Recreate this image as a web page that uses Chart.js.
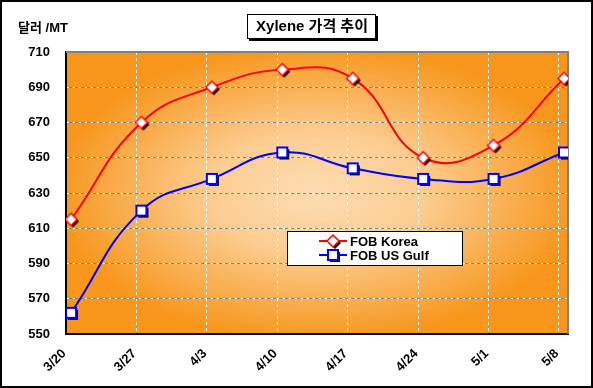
<!DOCTYPE html>
<html>
<head>
<meta charset="utf-8">
<script src="https://cdn.jsdelivr.net/npm/chart.js@4"></script>
<style>
html, body { margin: 0; padding: 0; background: #fff; }
</style>
</head>
<body>
<canvas id="xyleneChart" width="593" height="388"></canvas>
<script>
// 주간 Xylene 가격 (달러/MT)
var weeks = ["3/20", "3/27", "4/3", "4/10", "4/17", "4/24", "5/1", "5/8"];
var fobKorea = [615, 670, 690, 700, 695, 650, 657, 695];
var fobUsGulf = [562, 620, 638, 653, 644, 638, 638, 653];
var seriesNames = ["FOB Korea", "FOB US Gulf"];
var chartTitle = "Xylene 가격 추이";
var yUnit = "달러 /MT";
var yMin = 550, yMax = 710, yStep = 20;

var FONT = "'Liberation Sans', 'Noto Sans CJK KR', Arial, sans-serif";

// 그림자 있는 마커 이미지
function makeMarker(shape, color) {
	var c = document.createElement("canvas");
	c.width = 22; c.height = 22;
	var g = c.getContext("2d");
	var cx = 11, cy = 11;
	function path(dx, dy) {
		g.beginPath();
		if (shape == "diamond") {
			g.moveTo(cx + dx, cy - 6 + dy);
			g.lineTo(cx + 6 + dx, cy + dy);
			g.lineTo(cx + dx, cy + 6 + dy);
			g.lineTo(cx - 6 + dx, cy + dy);
		} else {
			g.rect(cx - 5 + dx, cy - 5 + dy, 10, 10);
		}
		g.closePath();
	}
	g.fillStyle = "#000";
	path(2, 2); g.fill();
	g.fillStyle = "#fff";
	path(0, 0); g.fill();
	g.strokeStyle = color;
	g.lineWidth = shape == "diamond" ? 1.5 : 2;
	path(0, 0); g.stroke();
	return c;
}

var koreaMarker = makeMarker("diamond", "#ff0000");
var gulfMarker = makeMarker("square", "#0000ff");

var bgPlugin = {
	id: "bg",
	beforeDraw: function (chart) {
		var ctx = chart.ctx, a = chart.chartArea;
		ctx.save();
		ctx.fillStyle = "#fff";
		ctx.fillRect(0, 0, chart.width, chart.height);
		var cx = (a.left + a.right) / 2, cy = (a.top + a.bottom) / 2;
		var rx = (a.right - a.left) / 2, ry = (a.bottom - a.top) / 2;
		ctx.beginPath();
		ctx.rect(a.left, a.top, a.right - a.left, a.bottom - a.top);
		ctx.clip();
		ctx.translate(cx, cy);
		ctx.scale(rx, ry);
		var grad = ctx.createRadialGradient(0, 0, 0, 0, 0, 1.05);
		grad.addColorStop(0, "#fddcb3");
		grad.addColorStop(0.4, "#fccd92");
		grad.addColorStop(1, "#f7961b");
		ctx.fillStyle = grad;
		ctx.fillRect(-1.5, -1.5, 3, 3);
		ctx.restore();
	},
	beforeDatasetsDraw: function (chart) {
		var ctx = chart.ctx, a = chart.chartArea;
		ctx.save();
		// 위/오른쪽 테두리
		ctx.strokeStyle = "#808080";
		ctx.lineWidth = 2;
		ctx.beginPath();
		ctx.moveTo(a.left, a.top);
		ctx.lineTo(a.right, a.top);
		ctx.lineTo(a.right, a.bottom);
		ctx.stroke();
		// 바깥 테두리
		ctx.strokeStyle = "#000";
		ctx.strokeRect(1, 1, chart.width - 2, chart.height - 2);
		// 제목 상자
		ctx.fillStyle = "#000";
		ctx.fillRect(249, 16, 129, 25);
		ctx.fillStyle = "#fff";
		ctx.fillRect(247, 14, 129, 25);
		ctx.lineWidth = 1;
		ctx.strokeRect(247.5, 14.5, 128, 24);
		ctx.fillStyle = "#000";
		ctx.font = "bold 15px " + FONT;
		ctx.textAlign = "center";
		ctx.textBaseline = "middle";
		ctx.fillText(chartTitle, 312, 27);
		// 단위
		ctx.font = "bold 13px " + FONT;
		ctx.textAlign = "left";
		ctx.fillText(yUnit, 18, 28);
		ctx.restore();
	},
	afterDatasetsDraw: function (chart) {
		// 범례
		var ctx = chart.ctx;
		var x = 287, y = 231, w = 175, h = 34;
		ctx.save();
		ctx.fillStyle = "#fff";
		ctx.fillRect(x, y, w, h);
		ctx.strokeStyle = "#000";
		ctx.lineWidth = 1;
		ctx.strokeRect(x + 0.5, y + 0.5, w, h);
		var rows = [
			{ name: seriesNames[0], color: "#ff0000", marker: koreaMarker, y: y + 10 },
			{ name: seriesNames[1], color: "#0000ff", marker: gulfMarker, y: y + 24 }
		];
		ctx.font = "bold 13px " + FONT;
		ctx.textBaseline = "middle";
		ctx.textAlign = "left";
		rows.forEach(function (r) {
			ctx.strokeStyle = r.color;
			ctx.lineWidth = 2;
			ctx.beginPath();
			ctx.moveTo(319, r.y);
			ctx.lineTo(347, r.y);
			ctx.stroke();
			ctx.drawImage(r.marker, 333 - 11, r.y - 11);
			ctx.fillStyle = "#000";
			ctx.fillText(r.name, 350, r.y + 1);
		});
		ctx.restore();
	}
};

var xMin = -0.071, xMax = 7.057;

var ctx = document.getElementById("xyleneChart");

var data = {
	datasets: [
		{
			label: seriesNames[0],
			data: fobKorea.map(function (v, i) { return { x: i, y: v }; }),
			borderColor: "#ff0000",
			borderWidth: 2,
			tension: 0.45,
			pointStyle: koreaMarker,
			pointRadius: 6,
			fill: false
		}, {
			label: seriesNames[1],
			data: fobUsGulf.map(function (v, i) { return { x: i, y: v }; }),
			borderColor: "#0000ff",
			borderWidth: 2,
			tension: 0.45,
			pointStyle: gulfMarker,
			pointRadius: 6,
			fill: false
		}
	]
};

var options = {
	responsive: false,
	animation: false,
	layout: { padding: { left: 0, right: 25, top: 52, bottom: 0 } },
	plugins: {
		legend: { display: false },
		title: { display: false },
		tooltip: { enabled: false }
	},
	scales: {
		x: {
			type: "linear",
			position: "bottom",
			min: xMin,
			max: xMax,
			afterBuildTicks: function (s) {
				s.ticks = weeks.map(function (w, i) { return { value: i - 0.1 }; });
			},
			afterFit: function (s) { s.height = 54; },
			ticks: {
				autoSkip: false,
				minRotation: 45,
				maxRotation: 45,
				padding: 12,
				color: "#000",
				font: { family: FONT, size: 13, weight: "bold" },
				callback: function (v, i) { return weeks[i]; }
			},
			grid: { display: false, drawTicks: false },
			border: { display: true, color: "#000", width: 2 }
		},
		xGrid: {
			type: "linear",
			position: "bottom",
			min: xMin,
			max: xMax,
			afterBuildTicks: function (s) {
				var t = [];
				for (var k = 1; k < weeks.length; k++) t.push({ value: k + xMin });
				s.ticks = t;
			},
			afterFit: function (s) { s.height = 0; },
			ticks: { display: false },
			grid: { color: "#ffffff", lineWidth: 1, drawTicks: false },
			border: { display: false, dash: [3, 3] }
		},
		y: {
			type: "linear",
			position: "left",
			min: yMin,
			max: yMax,
			afterFit: function (s) { s.width = 66; },
			ticks: {
				stepSize: yStep,
				padding: 16,
				color: "#000",
				font: { family: FONT, size: 13, weight: "bold" }
			},
			grid: { color: "#ffffff", lineWidth: 1, drawTicks: false },
			border: { display: true, color: "#000", width: 2, dash: [3, 3] }
		},
		yGray: {
			type: "linear",
			position: "left",
			min: yMin,
			max: yMax,
			afterFit: function (s) { s.width = 0; },
			ticks: { display: false, stepSize: yStep },
			grid: { color: "#808080", lineWidth: 1, drawTicks: false },
			border: { display: false, dash: [3, 3], dashOffset: 3 }
		}
	}
};

var chart = new Chart(ctx, {
	type: "line",
	data: data,
	options: options,
	plugins: [bgPlugin]
});
</script>
</body>
</html>
